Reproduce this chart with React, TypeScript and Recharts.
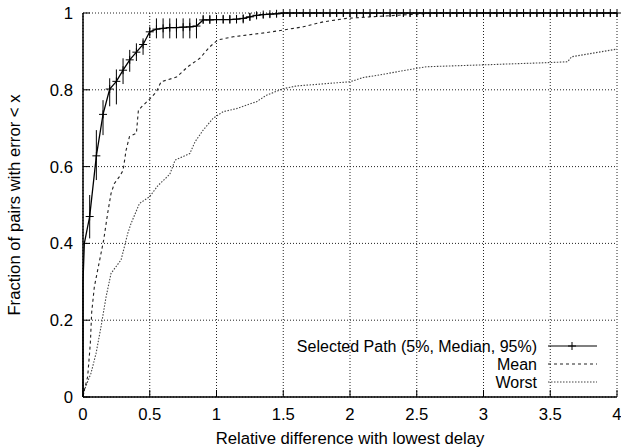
import { LineChart, Line, XAxis, YAxis, CartesianGrid, ErrorBar } from 'recharts'

const FONT = '"Liberation Sans", Arial, Helvetica, sans-serif'
const FS = 16.7
const LEGEND_FS = 16

const xTicks = [0, 0.5, 1, 1.5, 2, 2.5, 3, 3.5, 4]
const yTicks = [0, 0.2, 0.4, 0.6, 0.8, 1]

// Selected path: start of the curve, before the first marked point
const selHeadX = [0, 0, 0.01]
const selHeadY = [0, 0.3, 0.4]

// Selected path: marked points (median) with 5% / 95% bounds
const selX = [
  0.05, 0.1, 0.15, 0.2, 0.25, 0.3, 0.35, 0.4, 0.45, 0.5,
  0.55, 0.6, 0.65, 0.7, 0.75, 0.8, 0.85, 0.9, 0.95, 1,
  1.05, 1.1, 1.15, 1.2, 1.25, 1.3, 1.35, 1.4, 1.45, 1.5,
  1.55, 1.6, 1.65, 1.7, 1.75, 1.8, 1.85, 1.9, 1.95, 2,
  2.05, 2.1, 2.15, 2.2, 2.25, 2.3, 2.35, 2.4, 2.45, 2.5,
  2.55, 2.6, 2.65, 2.7, 2.75, 2.8, 2.85, 2.9, 2.95, 3,
  3.05, 3.1, 3.15, 3.2, 3.25, 3.3, 3.35, 3.4, 3.45, 3.5,
  3.55, 3.6, 3.65, 3.7, 3.75, 3.8, 3.85, 3.9, 3.95, 4,
]
const selMed = [
  0.47, 0.628, 0.736, 0.802, 0.822, 0.851, 0.878, 0.898, 0.918, 0.951,
  0.958, 0.96, 0.962, 0.962, 0.963, 0.964, 0.966, 0.982, 0.982, 0.983,
  0.983, 0.983, 0.984, 0.986, 0.99, 0.994, 0.996, 0.997, 0.998, 1,
  1, 1, 1, 1, 1, 1, 1, 1, 1, 1,
  1, 1, 1, 1, 1, 1, 1, 1, 1, 1,
  1, 1, 1, 1, 1, 1, 1, 1, 1, 1,
  1, 1, 1, 1, 1, 1, 1, 1, 1, 1,
  1, 1, 1, 1, 1, 1, 1, 1, 1, 1,
]
const selLo = [
  0.413, 0.565, 0.682, 0.757, 0.762, 0.815, 0.847, 0.875, 0.891, 0.935,
  0.934, 0.934, 0.934, 0.934, 0.934, 0.934, 0.934, 0.973, 0.973, 0.973,
  0.973, 0.973, 0.973, 0.973, 0.98, 0.984, 0.986, 0.988, 0.99, 0.99,
  0.99, 0.99, 0.99, 0.99, 0.99, 0.99, 0.99, 0.99, 0.99, 0.99,
  0.99, 0.99, 0.99, 0.99, 0.99, 0.99, 0.99, 0.99, 0.99, 0.99,
  0.99, 0.99, 0.99, 0.99, 0.99, 0.99, 0.99, 0.99, 0.99, 0.99,
  0.99, 0.99, 0.99, 0.99, 0.99, 0.99, 0.99, 0.99, 0.99, 0.99,
  0.99, 0.99, 0.99, 0.99, 0.99, 0.99, 0.99, 0.99, 0.99, 0.99,
]
const selHi = [
  0.526, 0.695, 0.773, 0.83, 0.853, 0.882, 0.904, 0.921, 0.934, 0.965,
  0.986, 0.986, 0.986, 0.986, 0.986, 0.986, 0.986, 0.995, 0.995, 0.995,
  0.995, 0.995, 0.995, 0.995, 1, 1, 1, 1, 1, 1,
  1, 1, 1, 1, 1, 1, 1, 1, 1, 1,
  1, 1, 1, 1, 1, 1, 1, 1, 1, 1,
  1, 1, 1, 1, 1, 1, 1, 1, 1, 1,
  1, 1, 1, 1, 1, 1, 1, 1, 1, 1,
  1, 1, 1, 1, 1, 1, 1, 1, 1, 1,
]

const meanX = [
  0, 0.01, 0.035, 0.055, 0.065, 0.085, 0.12, 0.155, 0.185, 0.21,
  0.235, 0.273, 0.3, 0.323, 0.348, 0.4, 0.415, 0.44, 0.49, 0.5,
  0.55, 0.585, 0.7, 0.785, 0.875, 0.95, 1.01, 1.125, 1.375, 1.525,
  1.65, 1.8, 1.975, 2.15, 2.4, 2.5, 2.65, 4,
]
const meanY = [
  0, 0.018, 0.053, 0.14, 0.22, 0.287, 0.348, 0.409, 0.479, 0.53,
  0.556, 0.574, 0.59, 0.643, 0.678, 0.687, 0.747, 0.756, 0.773, 0.776,
  0.795, 0.821, 0.833, 0.86, 0.882, 0.912, 0.93, 0.938, 0.949, 0.957,
  0.964, 0.977, 0.986, 0.99, 0.995, 0.997, 1, 1,
]

const worstX = [
  0, 0.01, 0.06, 0.098, 0.135, 0.173, 0.21, 0.285, 0.31, 0.335,
  0.36, 0.423, 0.5, 0.56, 0.65, 0.69, 0.8, 0.84, 0.9, 0.975,
  1.05, 1.15, 1.3, 1.375, 1.5, 1.6, 2, 2.1, 2.225, 2.5,
  2.575, 3, 3.5, 3.63, 3.66, 4,
]
const worstY = [
  0, 0.018, 0.062, 0.114, 0.183, 0.261, 0.322, 0.357, 0.391, 0.426,
  0.452, 0.504, 0.522, 0.55, 0.58, 0.617, 0.634, 0.665, 0.695, 0.726,
  0.743, 0.751, 0.769, 0.786, 0.803, 0.81, 0.821, 0.832, 0.839, 0.856,
  0.86, 0.865, 0.871, 0.873, 0.886, 0.906,
]

const selData = [
  ...selHeadX.map((x, i) => ({ x, y: selHeadY[i], err: [0, 0], mark: false })),
  ...selX.map((x, i) => ({
    x,
    y: selMed[i],
    err: [selMed[i] - selLo[i], selHi[i] - selMed[i]],
    mark: true,
  })),
]
const meanData = meanX.map((x, i) => ({ x, y: meanY[i] }))
const worstData = worstX.map((x, i) => ({ x, y: worstY[i] }))

const TICK_LEN = 7

function Cross(props: any) {
  const { cx, cy, payload, index } = props
  if (!payload?.mark || cx == null || cy == null) return <g key={index} />
  return (
    <path
      key={index}
      d={`M${cx - 4},${cy}H${cx + 4}M${cx},${cy - 4}V${cy + 4}`}
      stroke="#000"
      strokeWidth={1}
      fill="none"
    />
  )
}

function BottomTick(props: any) {
  const { x, y, payload } = props
  const axisY = y - 11
  return (
    <g>
      <line x1={x} y1={axisY} x2={x} y2={axisY - TICK_LEN} stroke="#000" />
      <text x={x} y={y} dy="0.71em" textAnchor="middle" fontFamily={FONT} fontSize={FS} fill="#000">
        {String(payload.value)}
      </text>
    </g>
  )
}

function TopTick(props: any) {
  const { x, y } = props
  return <line x1={x} y1={y} x2={x} y2={y + TICK_LEN} stroke="#000" />
}

function LeftTick(props: any) {
  const { x, y, payload } = props
  const axisX = x + 10
  return (
    <g>
      <line x1={axisX} y1={y} x2={axisX + TICK_LEN} y2={y} stroke="#000" />
      <text x={x} y={y} dy="0.36em" textAnchor="end" fontFamily={FONT} fontSize={FS} fill="#000">
        {String(payload.value)}
      </text>
    </g>
  )
}

function RightTick(props: any) {
  const { x, y } = props
  return <line x1={x} y1={y} x2={x - TICK_LEN} y2={y} stroke="#000" />
}

function LegendOverlay() {
  const rows = [
    { label: 'Selected Path (5%, Median, 95%)', y: 346, dash: undefined, stroke: '#000', cross: true },
    { label: 'Mean', y: 364, dash: '3 3', stroke: '#222', cross: false },
    { label: 'Worst', y: 382, dash: '1.5 1.5', stroke: '#444', cross: false },
  ]
  return (
    <svg
      width={621}
      height={448}
      style={{ position: 'absolute', left: 0, top: 0, pointerEvents: 'none' }}
    >
      {rows.map((r) => (
        <g key={r.label}>
          <text x={537} y={r.y} dy="0.36em" textAnchor="end" fontFamily={FONT} fontSize={LEGEND_FS} fill="#000">
            {r.label}
          </text>
          <line x1={548} y1={r.y} x2={597} y2={r.y} stroke={r.stroke} strokeWidth={1.2} strokeDasharray={r.dash} />
          {r.cross && (
            <path d={`M568,${r.y}H576M572,${r.y - 4}V${r.y + 4}`} stroke="#000" strokeWidth={1} />
          )}
        </g>
      ))}
      <text
        transform="translate(14,205) rotate(-90)"
        textAnchor="middle"
        dy="0.36em"
        fontFamily={FONT}
        fontSize={FS}
        fill="#000"
      >
        Fraction of pairs with error &lt; x
      </text>
      <text x={350} y={438} dy="0.36em" textAnchor="middle" fontFamily={FONT} fontSize={FS} fill="#000">
        Relative difference with lowest delay
      </text>
    </svg>
  )
}

export default function App() {
  return (
    <div style={{ position: 'absolute', left: 0, top: 0, width: 621, height: 448, background: '#fff' }}>
      <LineChart width={621} height={448} margin={{ top: 13, right: 4, bottom: 0, left: 0 }}>
        <CartesianGrid stroke="#222" strokeDasharray="1 2" strokeWidth={1} />
        <XAxis
          dataKey="x"
          type="number"
          domain={[0, 4]}
          ticks={xTicks}
          height={51}
          tickSize={0}
          tickMargin={11}
          tickLine={false}
          axisLine={{ stroke: '#000', strokeWidth: 1.5 }}
          tick={<BottomTick />}
          interval={0}
        />
        <XAxis
          xAxisId="top"
          dataKey="x"
          type="number"
          orientation="top"
          domain={[0, 4]}
          ticks={xTicks}
          height={0}
          tickSize={0}
          tickMargin={0}
          tickLine={false}
          axisLine={{ stroke: '#000', strokeWidth: 1.5 }}
          tick={<TopTick />}
          interval={0}
        />
        <YAxis
          type="number"
          domain={[0, 1]}
          ticks={yTicks}
          width={83}
          tickSize={0}
          tickMargin={10}
          tickLine={false}
          axisLine={{ stroke: '#000', strokeWidth: 1.5 }}
          tick={<LeftTick />}
          interval={0}
        />
        <YAxis
          yAxisId="right"
          orientation="right"
          type="number"
          domain={[0, 1]}
          ticks={yTicks}
          width={0}
          tickSize={0}
          tickMargin={0}
          tickLine={false}
          axisLine={{ stroke: '#000', strokeWidth: 1.5 }}
          tick={<RightTick />}
          interval={0}
        />
        <Line
          data={worstData}
          dataKey="y"
          type="linear"
          stroke="#444"
          strokeWidth={1.1}
          strokeDasharray="1.5 1.5"
          dot={false}
          isAnimationActive={false}
        />
        <Line
          data={meanData}
          dataKey="y"
          type="linear"
          stroke="#222"
          strokeWidth={1.1}
          strokeDasharray="3 3"
          dot={false}
          isAnimationActive={false}
        />
        <Line
          data={selData}
          dataKey="y"
          type="linear"
          stroke="#000"
          strokeWidth={1.3}
          dot={<Cross />}
          activeDot={false}
          isAnimationActive={false}
        >
          <ErrorBar dataKey="err" direction="y" width={0} stroke="#000" strokeWidth={1} />
        </Line>
      </LineChart>
      <LegendOverlay />
    </div>
  )
}
